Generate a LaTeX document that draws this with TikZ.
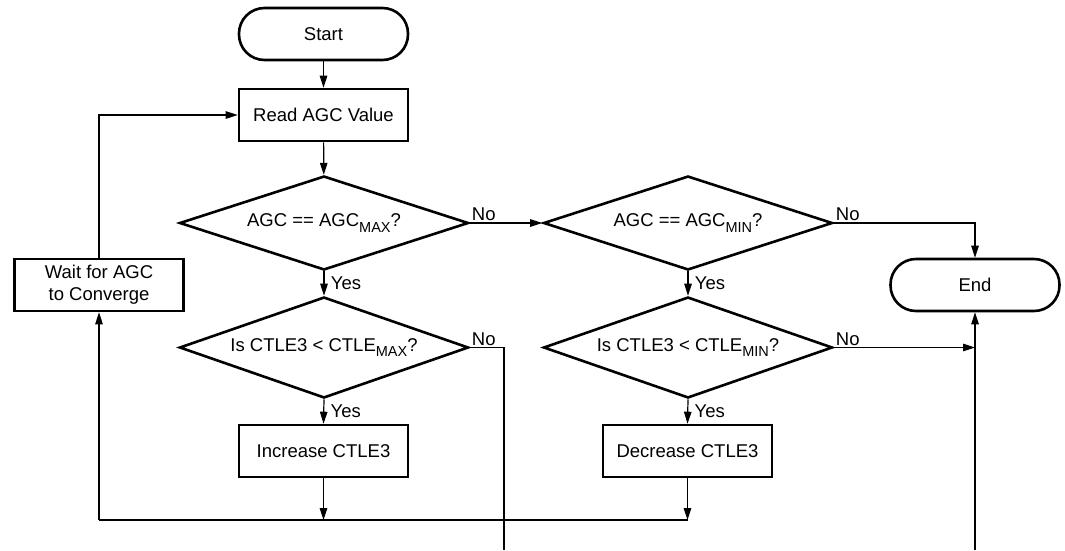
\documentclass[tikz,border=0pt]{standalone}
\usepackage{fontspec}
\setmainfont{Liberation Sans}
\usetikzlibrary{shapes.geometric,arrows.meta}
\newcommand{\lowsub}[1]{\raisebox{-5.5pt}{\fontsize{14.5}{15}\selectfont #1}}

\begin{document}
\begin{tikzpicture}[x=1pt,y=-1pt,
    every node/.style={font=\fontsize{18.5}{22}\selectfont},
    term/.style={draw,line width=2.6pt,rounded corners=25.5pt,minimum width=169pt,minimum height=52pt},
    proc/.style={draw,line width=2.6pt,minimum width=169pt,minimum height=52pt,align=center},
    decide/.style={draw,line width=2.6pt,diamond,inner sep=0pt,shape aspect=3,minimum width=289pt,minimum height=#1},
    conn/.style={line width=1.2pt},
    arr/.style={conn,-{Triangle[length=12pt,width=7.5pt]}},
    lbl/.style={inner sep=1.5pt},
    yes/.style={right,xshift=3pt}]
    \useasboundingbox (0,0) rectangle (1065,550);
    % boxes
    \node[term] (start) at (323.5,34) {Start};
    \node[proc] (read) at (323.5,115) {Read AGC Value};
    \node[decide=94pt] (d1) at (324,223) {AGC == AGC\lowsub{MAX}?};
    \node[decide=94pt] (d2) at (688,223) {AGC == AGC\lowsub{MIN}?};
    \node[decide=101pt] (d3) at (324,347.5) {Is CTLE3 < CTLE\lowsub{MAX}?};
    \node[decide=101pt] (d4) at (688,347.5) {Is CTLE3 < CTLE\lowsub{MIN}?};
    \node[proc] (inc) at (323.5,451) {Increase CTLE3};
    \node[proc] (dec) at (687.5,451) {Decrease CTLE3};
    \node[proc] (wait) at (99,285) {Wait for AGC\\to Converge};
    \node[term] (stop) at (975,285) {End};
    \coordinate (join) at (99,520);
    \coordinate (out) at (504,550);
    \coordinate (back) at (975,550);
    % flow
    \draw[arr] (start) -- (read);
    \draw[arr] (read) -- (d1);
    \draw[arr] (d1.east) node[lbl,above right] {No} -- (d2.west);
    \draw[arr] (d2.east) node[lbl,above right] {No} -| (stop.north);
    \draw[arr] (d1.south) -- node[yes] {Yes} (d3.north);
    \draw[arr] (d2.south) -- node[yes] {Yes} (d4.north);
    \draw[conn] (d3.east) node[lbl,above right] {No} -| (out);
    \draw[arr] (d4.east) node[lbl,above right] {No} -- (d4.east -| back);
    \draw[arr] (back) -- (stop.south);
    \draw[arr] (d3.south) -- node[yes] {Yes} (inc.north);
    \draw[arr] (d4.south) -- node[yes] {Yes} (dec.north);
    % loop back
    \draw[arr] (inc.south) -- (inc.south |- join);
    \draw[arr] (dec.south) -- (dec.south |- join);
    \draw[conn] (join) -- (dec.south |- join);
    \draw[arr] (join) -- (wait.south);
    \draw[arr] (wait.north) |- (read.west);
\end{tikzpicture}
\end{document}
